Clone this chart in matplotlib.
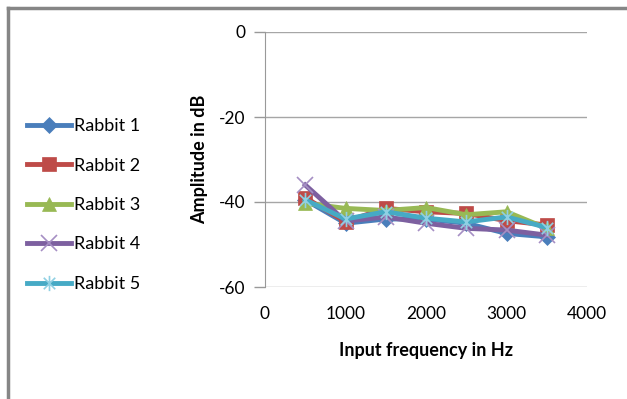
import matplotlib
matplotlib.use("Agg")
import matplotlib.pyplot as plt
from matplotlib.path import Path
from matplotlib.lines import Line2D

plt.rcParams['font.family'] = ['Lato', 'DejaVu Sans']
plt.rcParams['axes.unicode_minus'] = False

freqs = [500, 1000, 1500, 2000, 2500, 3000, 3500]
rabbit1 = [-39.5, -45.0, -44.0, -44.0, -45.0, -47.4, -48.2]
rabbit2 = [-39.0, -44.6, -41.5, -42.3, -42.7, -44.4, -45.4]
rabbit3 = [-40.3, -41.5, -42.0, -41.3, -43.0, -42.3, -46.2]
rabbit4 = [-36.0, -44.5, -43.5, -45.0, -46.2, -46.6, -47.8]
rabbit5 = [-39.5, -44.0, -42.3, -43.8, -44.7, -43.5, -46.0]
labels = ['Rabbit 1', 'Rabbit 2', 'Rabbit 3', 'Rabbit 4', 'Rabbit 5']
xticks = [0, 1000, 2000, 3000, 4000]
yticks = [0, -20, -40, -60]

colors = ['#4A7EBB', '#BE4B48', '#98B954', '#7D60A0', '#46AAC5']
star = Path([(0, -1), (0, 1), (-0.75, -0.75), (0.75, 0.75), (-0.75, 0.75), (0.75, -0.75)],
            [Path.MOVETO, Path.LINETO, Path.MOVETO, Path.LINETO, Path.MOVETO, Path.LINETO])
markers = ['D', 's', '^', 'x', star]
msizes = [8, 10, 10, 11, 11]

W, H = 627, 399
fig = plt.figure(figsize=(W / 100, H / 100), dpi=100)
ax = fig.add_axes([265 / W, (H - 287) / H, (587 - 265) / W, (287 - 32) / H])

series = [rabbit1, rabbit2, rabbit3, rabbit4, rabbit5]
handles = []
for i, (ys, lab) in enumerate(zip(series, labels)):
    mk = markers[i]
    unfilled = mk in ('x',) or mk is star
    h, = ax.plot(freqs, ys, color=colors[i], lw=3.5, marker=mk, ms=msizes[i],
                 markeredgewidth=1.2 if unfilled else 0.5,
                 markeredgecolor=('#A58FC4' if i == 3 else '#8FD0E3') if unfilled else colors[i],
                 markerfacecolor=colors[i], label=lab, solid_joinstyle='round', zorder=3 + i)
    handles.append(h)

ax.set_xlim(0, 4000)
ax.set_ylim(-60, 0)
ax.set_xticks(xticks)
ax.set_yticks(yticks)
ax.tick_params(axis='x', length=0, pad=14, labelsize=12.5, colors='black')
ax.tick_params(axis='y', length=8, width=1, color='#999999', pad=6, labelsize=12.5)
ax.yaxis.grid(True, color='#A6A6A6', lw=1)
ax.set_axisbelow(True)
for s in ['top', 'right']:
    ax.spines[s].set_visible(False)
ax.spines['left'].set_color('#999999')
ax.spines['bottom'].set_visible(False)

ax.set_xlabel('Input frequency in Hz', fontsize=13, fontweight='bold', labelpad=14)
ax.set_ylabel('Amplitude in dB', fontsize=13, fontweight='bold', labelpad=8)

fig.legend(handles=handles, labels=labels, loc='center left',
           bbox_to_anchor=(11 / W, (H - 205) / H), frameon=False,
           fontsize=13, labelspacing=1.3, handlelength=2.4, handletextpad=0.2)

# outer chart border (top and left visible)
fig.add_artist(Line2D([7.5 / W, 1], [1 - 7.5 / H, 1 - 7.5 / H], transform=fig.transFigure,
                      color='#868686', lw=2.5))
fig.add_artist(Line2D([7.5 / W, 7.5 / W], [0, 1 - 7.5 / H], transform=fig.transFigure,
                      color='#868686', lw=2.5))

fig.savefig('out.png', dpi=100)
